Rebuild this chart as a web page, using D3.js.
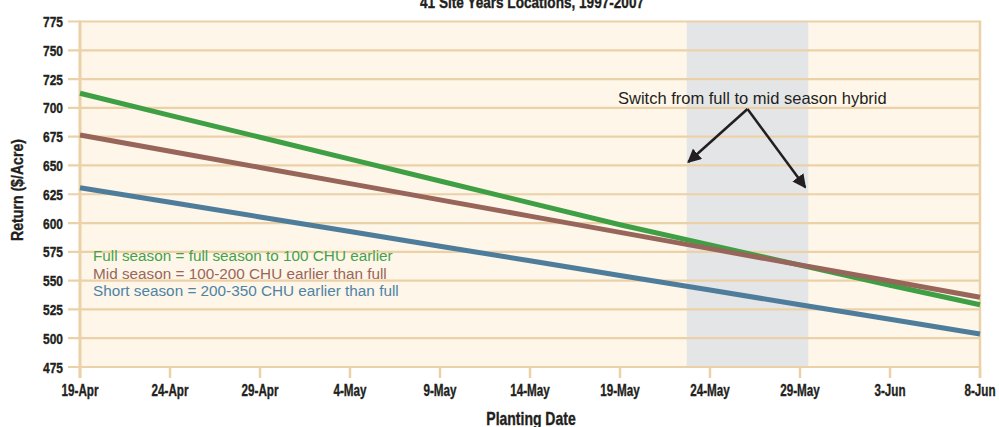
<!DOCTYPE html>
<html>
<head>
  <style>
    body {
      margin: 0;
      background: #fff;
    }
    text {
      font-family: "Liberation Sans", Arial, sans-serif;
      fill: #231f20;
    }
    .tick-label, .axis-title {
      font-weight: bold;
      stroke: #231f20;
      stroke-width: 0.35px;
    }
    .legend {
      font-size: 15.3px;
    }
    .note {
      font-size: 16.5px;
    }
  </style>
</head>
<body>
  <script src="https://d3js.org/d3.v7.min.js"></script>
  <script>
    var width = 999, height = 427;
    var margin = {top: 21.5, right: 19, bottom: 60, left: 80};

    // tick labels along the date axis (year 2007)
    var dateLabels = ["19-Apr", "24-Apr", "29-Apr", "4-May", "9-May", "14-May",
                      "19-May", "24-May", "29-May", "3-Jun", "8-Jun"];
    var yTicks = [475, 500, 525, 550, 575, 600, 625, 650, 675, 700, 725, 750, 775];

    // returns ($/acre) read at each date label
    var fullSeason  = [712.7, 693.5, 674.5, 655.5, 636.5, 617.5, 598.5, 581, 563.5, 546, 529];
    var midSeason   = [676.5, 662.4, 648.3, 634.2, 620.1, 606, 591.9, 577.8, 563.7, 549.7, 535.6];
    var shortSeason = [630.7, 618, 605.3, 592.6, 579.9, 567.2, 554.5, 541.8, 529.1, 516.4, 503.7];

    var seriesNames = ["Full season = full season to 100 CHU earlier",
                       "Mid season = 100-200 CHU earlier than full",
                       "Short season = 200-350 CHU earlier than full"];
    var lineColors = ["#3f9f45", "#98655a", "#4e7c9b"];
    var textColors = ["#45a24b", "#9b6558", "#4d83a6"];

    var parse = d3.timeParse("%d-%b-%Y");
    var dates = dateLabels.map(d => parse(d + "-2007"));

    // switch window (shaded) and arrow points
    var bandRange = [new Date(2007, 4, 22, 17), new Date(2007, 4, 29, 11)];
    var arrowApex = [new Date(2007, 4, 26, 2), 699];
    var arrowTips = [[new Date(2007, 4, 22, 19), 653], [new Date(2007, 4, 29, 7), 631]];

    var svg = d3.select("body").append("svg")
        .attr("width", width)
        .attr("height", height);

    var x = d3.scaleTime()
        .domain(d3.extent(dates))
        .range([margin.left, width - margin.right]);
    var y = d3.scaleLinear()
        .domain([475, 775])
        .range([367, margin.top]);

    var tan = "#ecd1a8";

    // condensed look: squeeze a bold face horizontally
    function narrow(sel, px, py, k, rot) {
      sel.attr("transform", "translate(" + px + "," + py + ")" + (rot ? " rotate(" + rot + ")" : "") + " scale(" + k + ",1)");
    }

    svg.append("rect")
        .attr("x", x.range()[0])
        .attr("y", y(775))
        .attr("width", x.range()[1] - x.range()[0])
        .attr("height", y(475) - y(775))
        .attr("fill", "#fdf6e9");

    svg.append("rect")
        .attr("x", x(bandRange[0]))
        .attr("y", y(775))
        .attr("width", x(bandRange[1]) - x(bandRange[0]))
        .attr("height", y(475) - y(775))
        .attr("fill", "#e4e5e7");

    // horizontal grid, running out past the axis as ticks
    svg.selectAll(".grid")
        .data(yTicks)
      .enter().append("line")
        .attr("x1", 68)
        .attr("x2", x.range()[1])
        .attr("y1", d => y(d))
        .attr("y2", d => y(d))
        .attr("stroke", tan)
        .attr("stroke-width", 2.2);

    svg.selectAll(".ylab")
        .data(yTicks)
      .enter().append("text")
        .attr("class", "tick-label")
        .attr("text-anchor", "end")
        .style("font-size", "15px")
        .each(function(d) { narrow(d3.select(this), 63, y(d) + 5.5, 0.8); })
        .text(d => d);

    // x ticks
    svg.selectAll(".xtick")
        .data(dates)
      .enter().append("line")
        .attr("x1", d => x(d))
        .attr("x2", d => x(d))
        .attr("y1", y(475))
        .attr("y2", 378)
        .attr("stroke", tan)
        .attr("stroke-width", 2.5);

    svg.selectAll(".xlab")
        .data(dates)
      .enter().append("text")
        .attr("class", "tick-label")
        .attr("text-anchor", "middle")
        .style("font-size", "16px")
        .each(function(d) { narrow(d3.select(this), x(d), 396, 0.73); })
        .text((d, i) => dateLabels[i]);

    // left axis and right border
    svg.append("line")
        .attr("x1", x.range()[0]).attr("x2", x.range()[0])
        .attr("y1", y(775) - 1).attr("y2", 378)
        .attr("stroke", tan).attr("stroke-width", 3);
    svg.append("line")
        .attr("x1", x.range()[1]).attr("x2", x.range()[1])
        .attr("y1", y(775) - 1).attr("y2", 378)
        .attr("stroke", tan).attr("stroke-width", 2.5);

    var line = d3.line()
        .x((d, i) => x(dates[i]))
        .y(d => y(d));

    [fullSeason, midSeason, shortSeason].forEach((s, i) => {
      svg.append("path")
          .attr("d", line(s))
          .attr("fill", "none")
          .attr("stroke", lineColors[i])
          .attr("stroke-width", 5);
    });

    svg.selectAll(".legend")
        .data(seriesNames)
      .enter().append("text")
        .attr("class", "legend")
        .attr("x", 93)
        .attr("y", (d, i) => 261 + i * 17.6)
        .style("fill", (d, i) => textColors[i])
        .text(d => d);

    // annotation
    svg.append("text")
        .attr("class", "note")
        .attr("x", 618)
        .attr("y", 104)
        .text("Switch from full to mid season hybrid");

    svg.append("defs").append("marker")
        .attr("id", "head")
        .attr("viewBox", "0 0 10 10")
        .attr("refX", 9)
        .attr("refY", 5)
        .attr("markerWidth", 5.5)
        .attr("markerHeight", 5.5)
        .attr("markerUnits", "strokeWidth")
        .attr("orient", "auto")
      .append("path")
        .attr("d", "M0,0L10,5L0,10z")
        .attr("fill", "#231f20");

    arrowTips.forEach(t => {
      svg.append("line")
          .attr("x1", x(arrowApex[0]))
          .attr("y1", y(arrowApex[1]))
          .attr("x2", x(t[0]))
          .attr("y2", y(t[1]))
          .attr("stroke", "#231f20")
          .attr("stroke-width", 2.5)
          .attr("marker-end", "url(#head)");
    });

    // titles
    svg.append("text")
        .attr("class", "axis-title")
        .attr("text-anchor", "middle")
        .style("font-size", "17px")
        .call(narrow, 532, 7.5, 0.8)
        .text("41 Site Years Locations, 1997-2007");

    svg.append("text")
        .attr("class", "axis-title")
        .attr("text-anchor", "middle")
        .style("font-size", "17.5px")
        .call(narrow, 531, 425, 0.8)
        .text("Planting Date");

    svg.append("text")
        .attr("class", "axis-title")
        .attr("text-anchor", "middle")
        .style("font-size", "17px")
        .call(narrow, 23, 190, 0.83, -90)
        .text("Return ($/Acre)");
  </script>
</body>
</html>
